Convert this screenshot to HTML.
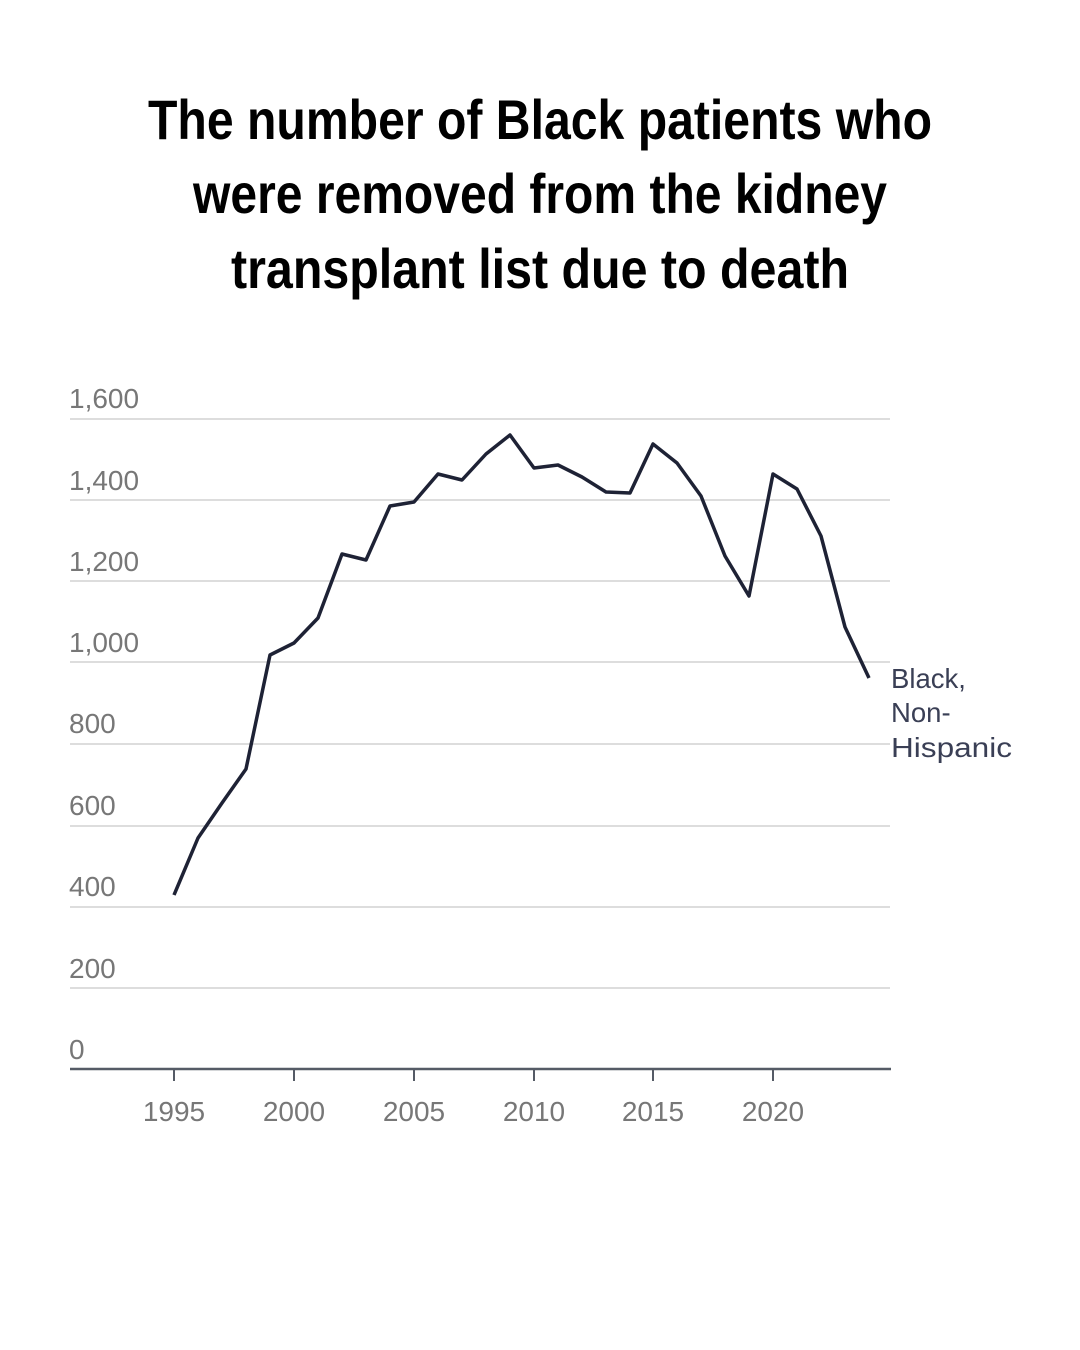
<!DOCTYPE html>
<html><head><meta charset="utf-8"><style>
body{margin:0;background:#fff;}
svg{display:block}
</style></head><body>
<svg width="1080" height="1350" xmlns="http://www.w3.org/2000/svg">
<rect width="1080" height="1350" fill="#fff"/>
<g font-family="Liberation Sans, sans-serif" font-weight="bold" font-size="56" fill="#000" lengthAdjust="spacingAndGlyphs">
<text x="148" y="139" textLength="784" lengthAdjust="spacingAndGlyphs">The number of Black patients who</text>
<text x="193" y="213" textLength="694" lengthAdjust="spacingAndGlyphs">were removed from the kidney</text>
<text x="231" y="288" textLength="618" lengthAdjust="spacingAndGlyphs">transplant list due to death</text>
</g>
<g stroke="#dddddd" stroke-width="2">
<line x1="70" x2="890" y1="419" y2="419"/>
<line x1="70" x2="890" y1="500" y2="500"/>
<line x1="70" x2="890" y1="581" y2="581"/>
<line x1="70" x2="890" y1="662" y2="662"/>
<line x1="70" x2="890" y1="744" y2="744"/>
<line x1="70" x2="890" y1="826" y2="826"/>
<line x1="70" x2="890" y1="907" y2="907"/>
<line x1="70" x2="890" y1="988" y2="988"/>
</g>
<line x1="70" x2="891" y1="1069" y2="1069" stroke="#555b66" stroke-width="2.5"/>
<g stroke="#555b66" stroke-width="2">
<line x1="174" x2="174" y1="1069" y2="1081"/>
<line x1="294" x2="294" y1="1069" y2="1081"/>
<line x1="414" x2="414" y1="1069" y2="1081"/>
<line x1="534" x2="534" y1="1069" y2="1081"/>
<line x1="653" x2="653" y1="1069" y2="1081"/>
<line x1="773" x2="773" y1="1069" y2="1081"/>
</g>
<g font-family="Liberation Sans, sans-serif" font-size="28" fill="#777">
<text x="69" y="408">1,600</text>
<text x="69" y="490">1,400</text>
<text x="69" y="571">1,200</text>
<text x="69" y="652">1,000</text>
<text x="69" y="733">800</text>
<text x="69" y="815">600</text>
<text x="69" y="896">400</text>
<text x="69" y="978">200</text>
<text x="69" y="1059">0</text>
</g>
<g font-family="Liberation Sans, sans-serif" font-size="28" fill="#777" text-anchor="middle">
<text x="174" y="1121">1995</text>
<text x="294" y="1121">2000</text>
<text x="414" y="1121">2005</text>
<text x="534" y="1121">2010</text>
<text x="653" y="1121">2015</text>
<text x="773" y="1121">2020</text>
</g>
<polyline fill="none" stroke="#1e2235" stroke-width="3.5" stroke-linejoin="round" points="174,895 198,838 222,803 246,769 270,655 294,643 318,618 342,554 366,560 390,506 414,502 438,474 462,480 486,454 510,435 534,468 558,465 582,477 606,492 630,493 653,444 677,463 701,496 725,556 749,596 773,474 797,489 821,536 845,627 869,678"/>
<g font-family="Liberation Sans, sans-serif" font-size="27.5" fill="#3a3f55">
<text x="891" y="688">Black,</text>
<text x="891" y="722">Non-</text>
<text x="891" y="757" textLength="121" lengthAdjust="spacingAndGlyphs">Hispanic</text>
</g>
</svg>
</body></html>
